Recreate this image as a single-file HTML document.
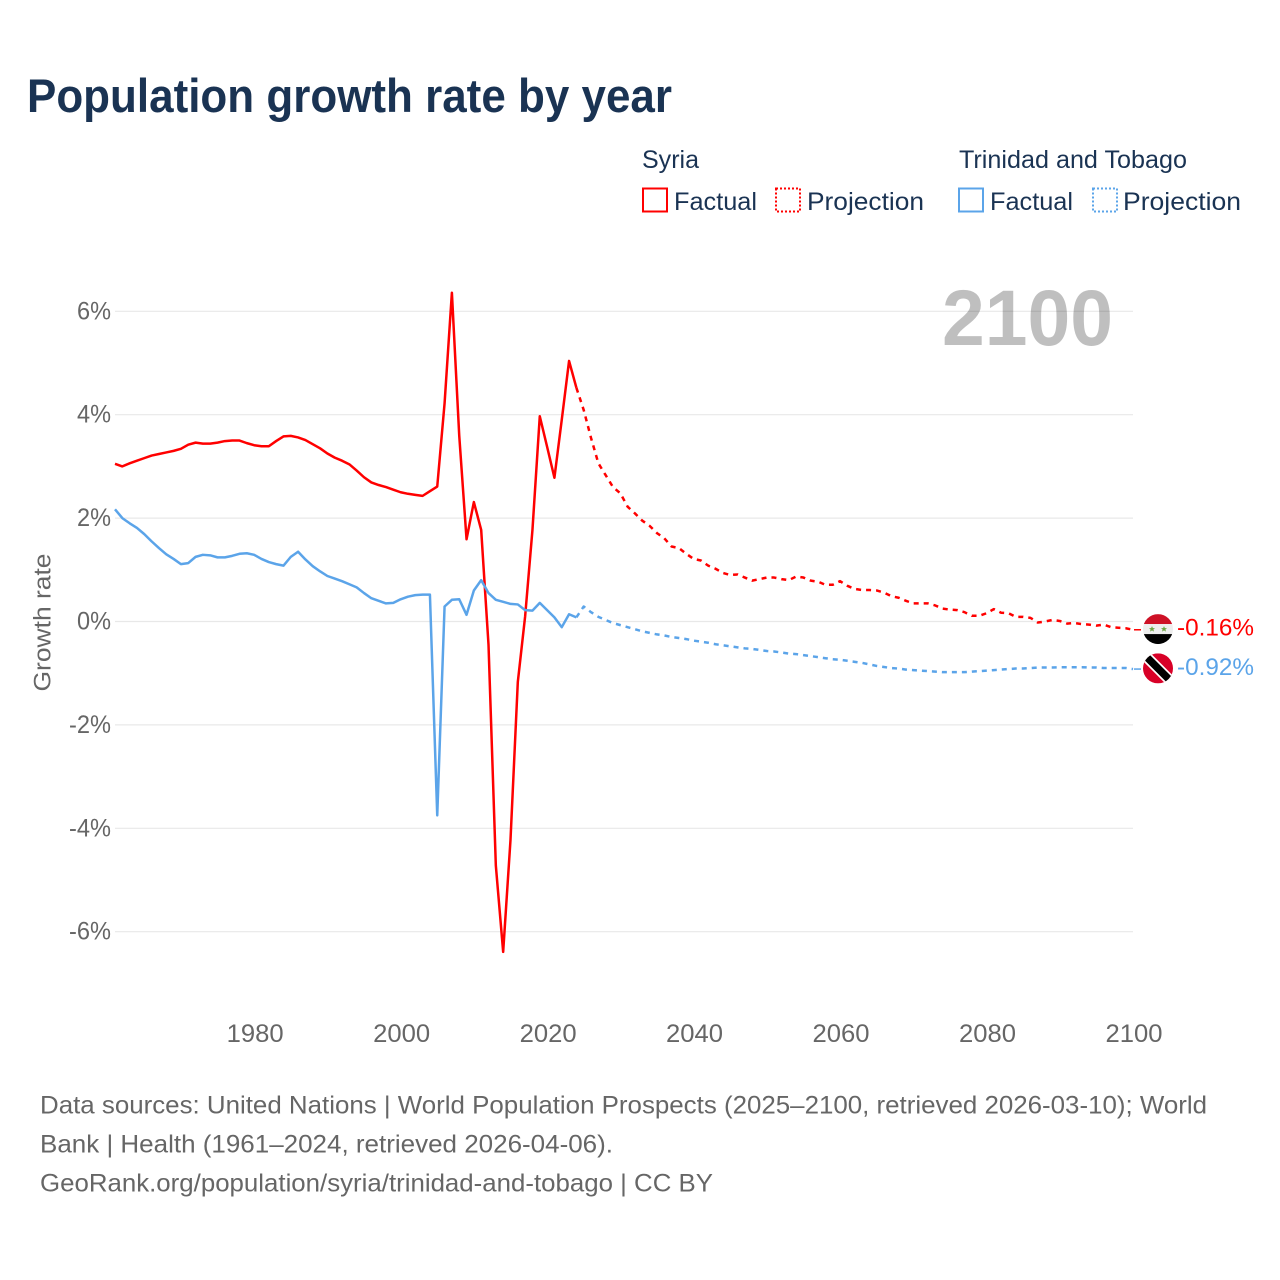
<!DOCTYPE html>
<html lang="en">
<head>
<meta charset="utf-8">
<title>Population growth rate by year</title>
<style>
html,body{margin:0;padding:0;background:#fff;width:1280px;height:1280px;overflow:hidden}
svg{display:block}
text{font-family:"Liberation Sans",sans-serif}
</style>
</head>
<body>
<svg id="chart" xmlns="http://www.w3.org/2000/svg" width="1280" height="1280" viewBox="0 0 1280 1280">
  <text x="27" y="112" font-size="47" font-weight="700" fill="#1a3353" textLength="645" lengthAdjust="spacingAndGlyphs">Population growth rate by year</text>

  <g>
    <text x="642" y="168" font-size="25" fill="#1a3353" textLength="57" lengthAdjust="spacingAndGlyphs">Syria</text>
    <rect x="643" y="188.5" width="24" height="23" fill="none" stroke="#ff0000" stroke-width="2"/>
    <text x="674" y="210" font-size="25" fill="#1a3353" textLength="83" lengthAdjust="spacingAndGlyphs">Factual</text>
    <rect x="776" y="188.5" width="24" height="23" fill="none" stroke="#ff0000" stroke-width="2" stroke-dasharray="2,2"/>
    <text x="807" y="210" font-size="25" fill="#1a3353" textLength="117" lengthAdjust="spacingAndGlyphs">Projection</text>
    <text x="959" y="168" font-size="25" fill="#1a3353" textLength="228" lengthAdjust="spacingAndGlyphs">Trinidad and Tobago</text>
    <rect x="959" y="188.5" width="24" height="23" fill="none" stroke="#5ba4e9" stroke-width="2"/>
    <text x="990" y="210" font-size="25" fill="#1a3353" textLength="83" lengthAdjust="spacingAndGlyphs">Factual</text>
    <rect x="1093" y="188.5" width="24" height="23" fill="none" stroke="#5ba4e9" stroke-width="2" stroke-dasharray="2,2"/>
    <text x="1123" y="210" font-size="25" fill="#1a3353" textLength="118" lengthAdjust="spacingAndGlyphs">Projection</text>
  </g>

  <g id="grid"></g>
  <text x="942" y="345" font-size="79" font-weight="700" fill="#000000" fill-opacity="0.25" textLength="171" lengthAdjust="spacingAndGlyphs">2100</text>
  <g id="yticks"></g>
  <g id="xticks"></g>
  <text transform="translate(50.5 622.5) rotate(-90)" text-anchor="middle" font-size="24" fill="#666666" textLength="138" lengthAdjust="spacingAndGlyphs">Growth rate</text>
  <g id="series"></g>

  <g id="flag-syria">
    <clipPath id="clip-syria"><circle cx="0" cy="0" r="15"/></clipPath>
    <g clip-path="url(#clip-syria)">
      <rect x="-15" y="-15" width="30" height="10" fill="#ce1126"/>
      <rect x="-15" y="-5" width="30" height="10" fill="#eeeeee"/>
      <rect x="-15" y="5" width="30" height="10" fill="#000000"/>
    </g>
    <polygon points="-6,-3 -5.1,-0.9 -3,-0.9 -4.6,0.4 -4,2.6 -6,1.3 -8,2.6 -7.4,0.4 -9,-0.9 -6.9,-0.9" fill="#6da544"/>
    <polygon points="6,-3 6.9,-0.9 9,-0.9 7.4,0.4 8,2.6 6,1.3 4,2.6 4.6,0.4 3,-0.9 5.1,-0.9" fill="#6da544"/>
  </g>
  <g id="flag-tt">
    <clipPath id="clip-tt"><circle cx="0" cy="0" r="15"/></clipPath>
    <g clip-path="url(#clip-tt)">
      <rect x="-15" y="-15" width="30" height="30" fill="#d80027"/>
      <line x1="-15" y1="-15" x2="15" y2="15" stroke="#ffffff" stroke-width="11"/>
      <line x1="-15" y1="-15" x2="15" y2="15" stroke="#000000" stroke-width="7.5"/>
    </g>
  </g>
  <text id="label-syria" x="1177" font-size="24" fill="#ff0000" textLength="77" lengthAdjust="spacingAndGlyphs"></text>
  <text id="label-tt" x="1177" font-size="24" fill="#5ba4e9" textLength="77" lengthAdjust="spacingAndGlyphs"></text>

  <g>
    <text x="40" y="1113.5" font-size="25" fill="#666666" textLength="1167" lengthAdjust="spacingAndGlyphs">Data sources: United Nations | World Population Prospects (2025–2100, retrieved 2026-03-10); World</text>
    <text x="40" y="1152.5" font-size="25" fill="#666666" textLength="573" lengthAdjust="spacingAndGlyphs">Bank | Health (1961–2024, retrieved 2026-04-06).</text>
    <text x="40" y="1191.5" font-size="25" fill="#666666" textLength="673" lengthAdjust="spacingAndGlyphs">GeoRank.org/population/syria/trinidad-and-tobago | CC BY</text>
  </g>
</svg>
<script>
var factualStartYear = 1961;
var projectionStartYear = 2024;
var yTickValues = [6, 4, 2, 0, -2, -4, -6];
var xTickYears = [1980, 2000, 2020, 2040, 2060, 2080, 2100];

var syriaFactual = [
  3.05,3.00,3.06,3.11,3.16,3.21,3.24,3.27,3.30,3.34,
  3.42,3.46,3.44,3.44,3.46,3.49,3.50,3.50,3.45,3.41,
  3.39,3.39,3.49,3.58,3.59,3.56,3.51,3.43,3.35,3.25,
  3.17,3.11,3.04,2.92,2.79,2.69,2.64,2.60,2.55,2.50,
  2.47,2.45,2.43,2.52,2.61,4.22,6.36,3.60,1.59,2.31,
  1.77,-0.45,-4.72,-6.39,-4.23,-1.17,0.10,1.77,3.97,3.38,
  2.78,3.90,5.04,4.52
];

var trinidadFactual = [
  2.17,2.00,1.90,1.81,1.69,1.55,1.42,1.30,1.21,1.11,
  1.13,1.25,1.29,1.28,1.24,1.24,1.27,1.31,1.32,1.29,
  1.21,1.15,1.11,1.08,1.25,1.35,1.20,1.07,0.97,0.88,
  0.83,0.78,0.72,0.66,0.55,0.45,0.40,0.35,0.36,0.43,
  0.48,0.51,0.52,0.52,-3.75,0.29,0.42,0.43,0.13,0.60,
  0.80,0.55,0.42,0.38,0.34,0.33,0.22,0.21,0.36,0.22,
  0.08,-0.11,0.14,0.08
];

var syriaProjection = [
  4.52,4.09,3.55,3.06,2.83,2.60,2.48,2.22,2.09,1.95,
  1.85,1.71,1.61,1.45,1.42,1.31,1.21,1.18,1.08,1.02,
  0.94,0.90,0.91,0.85,0.79,0.82,0.85,0.85,0.82,0.80,
  0.87,0.85,0.79,0.77,0.71,0.71,0.78,0.69,0.63,0.61,
  0.61,0.60,0.56,0.49,0.46,0.40,0.35,0.35,0.35,0.31,
  0.25,0.23,0.22,0.18,0.11,0.11,0.16,0.24,0.17,0.16,
  0.09,0.09,0.07,-0.02,0.00,0.03,0.01,-0.04,-0.03,-0.05,
  -0.06,-0.08,-0.06,-0.11,-0.12,-0.13,-0.16
];

var trinidadProjection = [
  0.08,0.29,0.18,0.09,0.03,-0.03,-0.07,-0.11,-0.15,-0.19,
  -0.22,-0.25,-0.27,-0.30,-0.32,-0.34,-0.37,-0.39,-0.41,-0.44,
  -0.46,-0.48,-0.50,-0.52,-0.53,-0.55,-0.57,-0.58,-0.60,-0.62,
  -0.63,-0.65,-0.67,-0.69,-0.71,-0.73,-0.74,-0.76,-0.78,-0.80,
  -0.83,-0.86,-0.88,-0.90,-0.91,-0.93,-0.94,-0.95,-0.96,-0.97,
  -0.98,-0.98,-0.98,-0.98,-0.97,-0.96,-0.95,-0.94,-0.93,-0.92,
  -0.91,-0.91,-0.90,-0.89,-0.89,-0.89,-0.885,-0.885,-0.885,-0.885,
  -0.89,-0.89,-0.90,-0.90,-0.90,-0.90,-0.92
];

var SVG_NS = 'http://www.w3.org/2000/svg';
var RED = '#ff0000';
var BLUE = '#5ba4e9';

function xScale(year) { return 115 + (year - 1961) * (1133 - 115) / (2100 - 1961); }
function yScale(pct) { return 621.5 - pct * 51.7; }

function linePath(values, startYear) {
  var d = '';
  for (var i = 0; i < values.length; i++) {
    d += (i ? 'L' : 'M') + xScale(startYear + i).toFixed(2) + ' ' + yScale(values[i]).toFixed(2);
  }
  return d;
}

function drawLine(parent, values, startYear, color, dashed) {
  var p = document.createElementNS(SVG_NS, 'path');
  p.setAttribute('d', linePath(values, startYear));
  p.setAttribute('fill', 'none');
  p.setAttribute('stroke', color);
  p.setAttribute('stroke-width', '2.5');
  p.setAttribute('stroke-linejoin', 'round');
  if (dashed) p.setAttribute('stroke-dasharray', '5,5');
  parent.appendChild(p);
  return p;
}

var gridGroup = document.getElementById('grid');
var yTickGroup = document.getElementById('yticks');
yTickValues.forEach(function (v) {
  var l = document.createElementNS(SVG_NS, 'line');
  
  
  l.setAttribute('x1', 115);
  l.setAttribute('x2', 1133);
  l.setAttribute('y1', yScale(v));
  l.setAttribute('y2', yScale(v));
  l.setAttribute('stroke', '#e8e8e8');
  l.setAttribute('stroke-width', '1.2');
  gridGroup.appendChild(l);
  var t = document.createElementNS(SVG_NS, 'text');
  
  
  var label = v + '%';
  var labelWidth = label.length === 3 ? 42 : 34;
  t.setAttribute('x', 111 - labelWidth);
  t.setAttribute('y', yScale(v) + 8);
  t.setAttribute('font-size', '25');
  t.setAttribute('fill', '#666666');
  t.setAttribute('textLength', labelWidth);
  t.setAttribute('lengthAdjust', 'spacingAndGlyphs');
  t.textContent = label;
  yTickGroup.appendChild(t);
});

var xTickGroup = document.getElementById('xticks');
xTickYears.forEach(function (y) {
  var t = document.createElementNS(SVG_NS, 'text');
  
  
  t.setAttribute('x', xScale(y) + 1 - 28.5);
  t.setAttribute('y', 1042);
  t.setAttribute('font-size', '25');
  t.setAttribute('fill', '#666666');
  t.setAttribute('textLength', '57');
  t.setAttribute('lengthAdjust', 'spacingAndGlyphs');
  t.textContent = y;
  xTickGroup.appendChild(t);
});

var seriesGroup = document.getElementById('series');

var lineSyriaFactual = drawLine(seriesGroup, syriaFactual, factualStartYear, RED, false);



var lineSyriaProjection = drawLine(seriesGroup, syriaProjection, projectionStartYear, RED, true);



var lineTrinidadFactual = drawLine(seriesGroup, trinidadFactual, factualStartYear, BLUE, false);



var lineTrinidadProjection = drawLine(seriesGroup, trinidadProjection, projectionStartYear, BLUE, true);



function drawConnector(value, color) {
  var c = document.createElementNS(SVG_NS, 'line');
  c.setAttribute('x1', xScale(2100) + 1);
  c.setAttribute('x2', 1141);
  c.setAttribute('y1', yScale(value));
  c.setAttribute('y2', yScale(value));
  c.setAttribute('stroke', color);
  c.setAttribute('stroke-width', '1.5');
  seriesGroup.appendChild(c);
  return c;
}
var syriaLast = syriaProjection[syriaProjection.length - 1];
var trinidadLast = trinidadProjection[trinidadProjection.length - 1];

var connectorSyria = drawConnector(syriaLast, RED);



var connectorTrinidad = drawConnector(trinidadLast, BLUE);



document.getElementById('flag-syria').setAttribute('transform', 'translate(1158 ' + (yScale(syriaLast) - 0.7) + ')');
document.getElementById('flag-tt').setAttribute('transform', 'translate(1158 ' + (yScale(trinidadLast) - 0.7) + ')');

var labelSyria = document.getElementById('label-syria');
labelSyria.setAttribute('y', yScale(syriaLast) + 5.5);
labelSyria.textContent = syriaLast.toFixed(2) + '%';

var labelTt = document.getElementById('label-tt');
labelTt.setAttribute('y', yScale(trinidadLast) + 6);
labelTt.textContent = trinidadLast.toFixed(2) + '%';
</script>
</body>
</html>
